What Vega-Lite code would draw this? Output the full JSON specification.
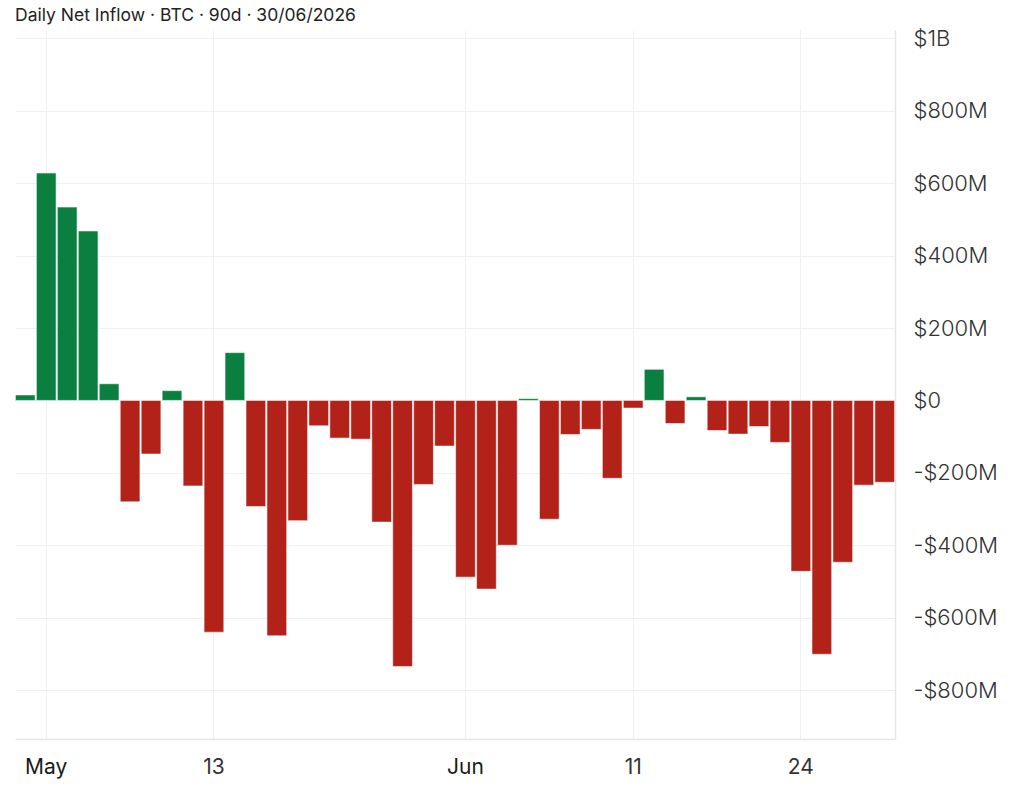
{
  "$schema": "https://vega.github.io/schema/vega-lite/v6.json",
  "autosize": "none",
  "width": 880,
  "height": 709,
  "padding": {"left": 15, "top": 30, "right": 129, "bottom": 55},
  "background": "#ffffff",
  "title": {
    "text": "Daily Net Inflow · BTC · 90d · 30/06/2026",
    "anchor": "start",
    "frame": "group",
    "font": "Inter",
    "fontSize": 17.5,
    "fontWeight": "normal",
    "color": "#222222",
    "offset": 3
  },
  "config": {
    "view": {"stroke": null},
    "font": "Inter"
  },
  "data": {
    "values": [
      {"date": "2026-04-30", "flow": 15000000},
      {"date": "2026-05-01", "flow": 628000000},
      {"date": "2026-05-04", "flow": 534000000},
      {"date": "2026-05-05", "flow": 468000000},
      {"date": "2026-05-06", "flow": 46000000},
      {"date": "2026-05-07", "flow": -280000000},
      {"date": "2026-05-08", "flow": -148000000},
      {"date": "2026-05-11", "flow": 27000000},
      {"date": "2026-05-12", "flow": -236000000},
      {"date": "2026-05-13", "flow": -640000000},
      {"date": "2026-05-14", "flow": 132000000},
      {"date": "2026-05-15", "flow": -293000000},
      {"date": "2026-05-18", "flow": -650000000},
      {"date": "2026-05-19", "flow": -332000000},
      {"date": "2026-05-20", "flow": -70000000},
      {"date": "2026-05-21", "flow": -104000000},
      {"date": "2026-05-22", "flow": -107000000},
      {"date": "2026-05-26", "flow": -336000000},
      {"date": "2026-05-27", "flow": -735000000},
      {"date": "2026-05-28", "flow": -232000000},
      {"date": "2026-05-29", "flow": -126000000},
      {"date": "2026-06-01", "flow": -488000000},
      {"date": "2026-06-02", "flow": -521000000},
      {"date": "2026-06-03", "flow": -400000000},
      {"date": "2026-06-04", "flow": 5000000},
      {"date": "2026-06-05", "flow": -328000000},
      {"date": "2026-06-08", "flow": -94000000},
      {"date": "2026-06-09", "flow": -80000000},
      {"date": "2026-06-10", "flow": -215000000},
      {"date": "2026-06-11", "flow": -21000000},
      {"date": "2026-06-12", "flow": 86000000},
      {"date": "2026-06-15", "flow": -64000000},
      {"date": "2026-06-16", "flow": 10000000},
      {"date": "2026-06-17", "flow": -83000000},
      {"date": "2026-06-18", "flow": -93000000},
      {"date": "2026-06-22", "flow": -72000000},
      {"date": "2026-06-23", "flow": -116000000},
      {"date": "2026-06-24", "flow": -472000000},
      {"date": "2026-06-25", "flow": -701000000},
      {"date": "2026-06-26", "flow": -447000000},
      {"date": "2026-06-29", "flow": -234000000},
      {"date": "2026-06-30", "flow": -226000000}
    ]
  },
  "mark": {
    "type": "bar",
    "stroke": "#ffffff",
    "strokeWidth": 1,
    "strokeOpacity": 0.55
  },
  "encoding": {
    "x": {
      "field": "date",
      "type": "ordinal",
      "sort": null,
      "scale": {"paddingInner": 0.06, "paddingOuter": 0.02},
      "axis": {
        "title": null,
        "values": ["2026-05-01", "2026-05-13", "2026-06-01", "2026-06-11", "2026-06-24"],
        "labelExpr": "datum.value == '2026-05-01' ? 'May' : datum.value == '2026-06-01' ? 'Jun' : datum.value == '2026-05-13' ? '13' : datum.value == '2026-06-11' ? '11' : '24'",
        "labelAngle": 0,
        "labelFont": "Inter",
        "labelFontSize": 21,
        "labelColor": {"condition": {"test": "datum.value == '2026-05-01' || datum.value == '2026-06-01'", "value": "#1a1a1a"}, "value": "#333333"},
        "labelFontWeight": "normal",
        "labelPadding": 17,
        "labelBaseline": "top",
        "ticks": false,
        "bandPosition": 0.5,
        "grid": true,
        "gridColor": "#f0f0f0",
        "gridWidth": 1,
        "domain": true,
        "domainColor": "#e6e6e6",
        "domainWidth": 1.5
      }
    },
    "y": {
      "field": "flow",
      "type": "quantitative",
      "scale": {"domain": [-935000000, 1023000000], "nice": false, "zero": true},
      "axis": {
        "title": null,
        "orient": "right",
        "values": [-800000000, -600000000, -400000000, -200000000, 0, 200000000, 400000000, 600000000, 800000000, 1000000000],
        "labelExpr": "datum.value == 0 ? '$0' : (datum.value < 0 ? '-' : '') + '$' + (abs(datum.value) >= 1000000000 ? format(abs(datum.value) / 1000000000, 'd') + 'B' : format(abs(datum.value) / 1000000, 'd') + 'M')",
        "labelFont": "Inter",
        "labelFontSize": 22,
        "labelFontWeight": 300,
        "labelColor": "#333333",
        "labelPadding": 18,
        "labelBaseline": "middle",
        "labelAlign": "left",
        "ticks": false,
        "grid": true,
        "gridColor": "#f0f0f0",
        "gridWidth": 1,
        "domain": true,
        "domainColor": "#e6e6e6",
        "domainWidth": 1.5
      }
    },
    "color": {
      "condition": {"test": "datum.flow >= 0", "value": "#0b7f40"},
      "value": "#b32219"
    }
  }
}
